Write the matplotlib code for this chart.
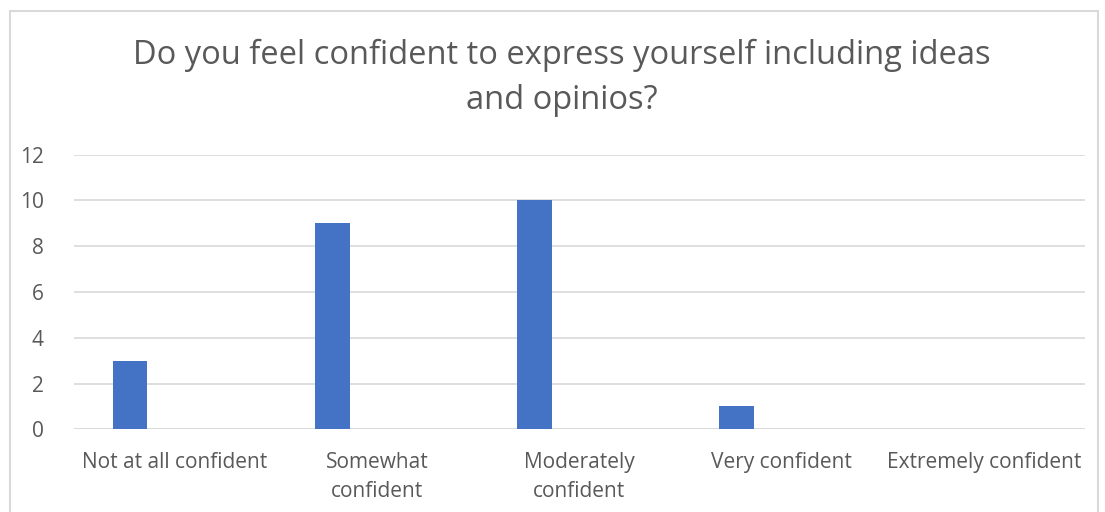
import matplotlib
matplotlib.use("Agg")
import matplotlib.pyplot as plt
from matplotlib.patches import Rectangle
import numpy as np

categories = ["Not at all confident", "Somewhat\nconfident", "Moderately\nconfident",
              "Very confident", "Extremely confident"]
values = [3, 9, 10, 1, 0]
yticks = [0, 2, 4, 6, 8, 10, 12]
title = "Do you feel confident to express yourself including ideas\nand opinios?"

plt.rcParams['font.family'] = ['Open Sans', 'DejaVu Sans']
txt = '#595959'

fig = plt.figure(figsize=(11.05, 5.12), dpi=100)
fig.patches.append(Rectangle((10/1105, -0.1), (1098-10)/1105, (512-11)/512 + 0.1,
                             transform=fig.transFigure, fill=False,
                             edgecolor='#D9D9D9', linewidth=1.5))
ax = fig.add_axes([74/1105, (512-429.3)/512, (1085-74)/1105, (429.3-154.7)/512])

x = np.arange(len(categories))
ax.bar(x - 0.223, values, width=0.172, color='#4472C4', zorder=3)
ax.set_xlim(-0.5, len(categories) - 0.5)
ax.set_ylim(0, 12)
ax.set_yticks(yticks)
ax.set_xticks(x)
ax.set_xticklabels(categories, linespacing=1.5)
ax.grid(axis='y', color='#D9D9D9', linewidth=1.2, zorder=0)
for s in ax.spines.values():
    s.set_visible(False)
ax.tick_params(axis='both', length=0, colors=txt, labelsize=15)
ax.tick_params(axis='x', pad=16)
ax.tick_params(axis='y', pad=22)
ax.axhline(0, color='#D9D9D9', linewidth=1.2, zorder=2)

fig.text(562/1105, 1 - 78/512, title, ha='center', va='center', fontsize=23.5,
         color=txt, linespacing=1.5)

fig.savefig("out.png", dpi=100)
